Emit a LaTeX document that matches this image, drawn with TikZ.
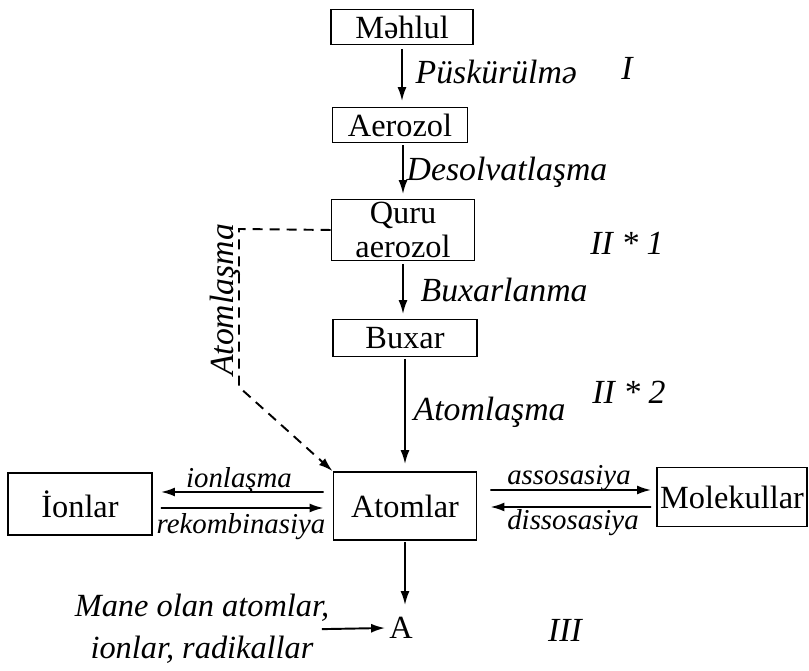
\documentclass[tikz,border=0pt]{standalone}
\usepackage{fontspec}
\setmainfont{Liberation Serif}
\usetikzlibrary{arrows.meta}
\tikzset{
  stage/.style    = {draw, line width=0.5pt, inner sep=0pt, align=center,
                     font=\fontsize{9.2}{9.6}\selectfont},
  flow/.style     = {-{Latex[length=1.4mm,width=0.9mm]}, line width=0.55pt},
  dashflow/.style = {flow, dash pattern=on 1mm off 0.7mm},
  lbl/.style      = {font=\fontsize{9.6}{12}\selectfont\itshape, inner sep=0pt},
  lblsm/.style    = {lbl, font=\fontsize{8.2}{10}\selectfont\itshape},
}

\begin{document}
\begin{tikzpicture}[x=0.01cm, y=-0.01cm]
  \useasboundingbox (0,0) rectangle (809,671);
  \node[stage, minimum width=1.42cm, minimum height=0.35cm] (mehlul)  at (402,27)  {Məhlul};
  \node[stage, minimum width=1.35cm, minimum height=0.35cm] (aerozol) at (400,125) {Aerozol};
  \node[stage, minimum width=1.43cm, minimum height=0.61cm] (quru)    at (403,230) {Quru\\aerozol};
  \node[stage, minimum width=1.44cm, minimum height=0.37cm] (buxar)   at (405,338) {Buxar};
  \node[stage, minimum width=1.43cm, minimum height=0.68cm] (atomlar) at (405,506) {Atomlar};
  \node[stage, minimum width=1.44cm, minimum height=0.62cm] (ionlar)  at (80,504)  {İonlar};
  \node[stage, minimum width=1.50cm, minimum height=0.59cm] (molekul) at (732,497) {Molekullar};
  \node[font=\fontsize{9.2}{9.6}\selectfont, inner sep=1pt] (cA) at (401,628) {A};
  \node[lbl, font=\fontsize{9.2}{12}\selectfont\itshape, align=center] (mane) at (202,629) {Mane olan atomlar,\\ionlar, radikallar};

  \draw[flow, shorten <=0.35mm, shorten >=0.55mm] (mehlul) -- (mehlul |- aerozol.north);
  \draw[flow, shorten <=0.2mm, shorten >=0.45mm] (quru |- aerozol.south) -- (quru);
  \draw[flow, shorten <=0.25mm, shorten >=0.45mm] (quru) -- (quru |- buxar.north);
  \draw[flow, shorten <=0.15mm, shorten >=0.7mm] (buxar) -- (atomlar);
  \draw[flow, shorten <=0.1mm, shorten >=0.8mm] (atomlar) -- (atomlar |- cA.north);
  \draw[flow, shorten <=-0.8mm] (mane.east) -- (cA.west);

  \draw[flow, shorten <=0.9mm, shorten >=0.8mm] ([yshift=1.4mm]atomlar.west) -- ([yshift=1.2mm]ionlar.east);
  \draw[flow, shorten <=0.8mm, shorten >=0.9mm] ([yshift=-0.4mm]ionlar.east) -- ([yshift=-0.2mm]atomlar.west);
  \draw[flow, shorten <=1.3mm, shorten >=0.5mm] ([yshift=1.6mm]atomlar.east) -- ([yshift=0.7mm]molekul.west);
  \draw[flow, shorten <=0.5mm, shorten >=1.3mm] ([yshift=-1mm]molekul.west) -- ([yshift=-0.1mm]atomlar.east);

  % dashed shortcut
  \coordinate (dk1) at (239,229);
  \coordinate (dk2) at (239,387);
  \draw[dashflow] (quru.west) -- (dk1) -- (dk2) -- (atomlar.north west);
  \node[lbl, rotate=90] (latomv) at (225,300) {Atomlaşma};

  \node[lbl, anchor=west] (lpusk)   at (415,72)  {Püskürülmə};
  \node[lbl, anchor=west] (ldesolv) at (406,172) {Desolvatlaşma};
  \node[lbl, anchor=west] (lbuxar)  at (420,290) {Buxarlanma};
  \node[lbl, anchor=west] (latom)   at (413,412) {Atomlaşma};
  \node[lblsm] (lion)    at (239,481) {ionlaşma};
  \node[lblsm] (lrekomb) at (241,527) {rekombinasiya};
  \node[lblsm] (lasso)   at (569,478) {assosasiya};
  \node[lblsm] (ldisso)  at (573,523) {dissosasiya};

  \node[lbl] (rI)   at (627,68)  {I};
  \node[lbl] (rII1) at (627,243) {II * 1};
  \node[lbl] (rII2) at (629,392) {II * 2};
  \node[lbl] (rIII) at (565,630) {III};
\end{tikzpicture}
\end{document}
